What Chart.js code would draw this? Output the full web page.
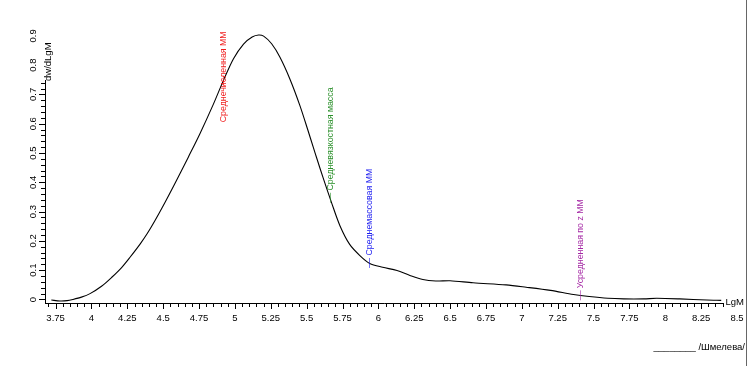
<!DOCTYPE html>
<html>
<head>
<meta charset="utf-8">
<script src="https://cdn.jsdelivr.net/npm/chart.js@4.4.0/dist/chart.umd.min.js"></script>
<style>
  html, body { margin: 0; padding: 0; background: #fff; }
  #wrap { width: 748px; height: 366px; position: relative; }
</style>
</head>
<body>
<div id="wrap"><canvas id="mwd"></canvas></div>
<script>
// MWD curve
const lgM = [3.72, 3.78, 3.83, 3.87, 3.93, 3.99, 4.07, 4.14, 4.21, 4.27, 4.34, 4.39, 4.44, 4.50, 4.57, 4.62,
  4.675, 4.756, 4.85, 4.92, 4.99, 5.06, 5.12, 5.165, 5.20, 5.256, 5.314, 5.383, 5.453, 5.51, 5.546, 5.57,
  5.615, 5.674, 5.732, 5.80, 5.871, 5.94, 6.03, 6.13, 6.22, 6.31, 6.40, 6.50, 6.66, 6.89, 7.03, 7.20,
  7.36, 7.47, 7.60, 7.71, 7.85, 7.94, 8.10, 8.29, 8.39];
const dw = [-0.002, -0.005, -0.004, 0.000, 0.008, 0.020, 0.045, 0.075, 0.109, 0.145, 0.190, 0.226, 0.267, 0.320, 0.385, 0.433,
  0.486, 0.566, 0.667, 0.748, 0.822, 0.872, 0.896, 0.903, 0.899, 0.873, 0.827, 0.753, 0.662, 0.576, 0.520, 0.483,
  0.415, 0.330, 0.252, 0.188, 0.150, 0.123, 0.110, 0.099, 0.082, 0.068, 0.063, 0.064, 0.057, 0.050, 0.042, 0.031,
  0.017, 0.010, 0.004, 0.002, 0.002, 0.004, 0.002, -0.002, -0.003];

// averages marked on the curve
const avgNames = ['Среднечисленная ММ', 'Средневязкостная масса', 'Среднемассовая ММ', 'Усредненная по z ММ'];
const avgLgM = [4.919, 5.662, 5.936, 7.404];
const avgBase = [0.605, 0.372, 0.150, 0.038];
const avgColors = ['#f01c1c', '#2a8f2a', '#1c1cf0', '#a52aa5'];

const xLabels = [3.75, 4, 4.25, 4.5, 4.75, 5, 5.25, 5.5, 5.75, 6, 6.25, 6.5, 6.75, 7, 7.25, 7.5, 7.75, 8, 8.25, 8.5];
const yLabels = [0, 0.1, 0.2, 0.3, 0.4, 0.5, 0.6, 0.7, 0.8, 0.9];

const FONT = '9.5px "Liberation Sans", Arial, sans-serif';
const NOTE_FONT = '8.8px "Liberation Sans", Arial, sans-serif';

const axesPlugin = {
  id: 'axes',
  afterDraw(chart) {
    const ctx = chart.ctx;
    const xs = chart.scales.x, ys = chart.scales.y;
    const bottom = chart.chartArea.bottom;
    const left = chart.chartArea.left;
    ctx.save();
    ctx.strokeStyle = '#000';
    ctx.fillStyle = '#000';
    ctx.lineWidth = 1;
    ctx.font = FONT;

    // x axis
    const xEnd = Math.round(xs.getPixelForValue(8.4)) + 0.5;
    ctx.beginPath();
    ctx.moveTo(left, bottom + 0.5);
    ctx.lineTo(xEnd, bottom + 0.5);
    for (let i = 0; i <= 94; i++) {
      const v = 3.7 + i * 0.05;
      const px = Math.round(xs.getPixelForValue(v)) + 0.5;
      const major = Math.abs(v * 4 - Math.round(v * 4)) < 1e-6;
      ctx.moveTo(px, bottom);
      ctx.lineTo(px, bottom + (major ? 6 : 4));
    }
    ctx.stroke();
    ctx.textAlign = 'center';
    ctx.textBaseline = 'middle';
    xLabels.forEach(v => ctx.fillText(String(v), xs.getPixelForValue(v), bottom + 15));
    ctx.textAlign = 'left';
    ctx.fillText('LgM', xEnd + 2, bottom - 1);

    // y axis
    const yTop = Math.round(ys.getPixelForValue(0.75));
    ctx.beginPath();
    ctx.moveTo(left + 0.5, bottom + 0.5);
    ctx.lineTo(left + 0.5, yTop);
    for (let i = 0; i <= 37; i++) {
      const v = i * 0.02;
      const py = Math.round(ys.getPixelForValue(v)) + 0.5;
      const major = i % 5 === 0;
      ctx.moveTo(left, py);
      ctx.lineTo(left - (major ? 6 : 4), py);
    }
    ctx.stroke();
    yLabels.forEach(v => {
      ctx.save();
      ctx.translate(left - 12, ys.getPixelForValue(v));
      ctx.rotate(-Math.PI / 2);
      ctx.textAlign = 'center';
      ctx.fillText(String(v), 0, 0);
      ctx.restore();
    });
    ctx.save();
    ctx.translate(left + 3, yTop + 1);
    ctx.rotate(-Math.PI / 2);
    ctx.textAlign = 'left';
    ctx.fillText('dw/dLgM', 0, 0);
    ctx.restore();

    // averages
    ctx.font = NOTE_FONT;
    avgNames.forEach((name, i) => {
      const px = Math.round(xs.getPixelForValue(avgLgM[i])) + 0.5;
      let k = 0;
      while (k < lgM.length - 2 && lgM[k + 1] < avgLgM[i]) k++;
      const t = (avgLgM[i] - lgM[k]) / (lgM[k + 1] - lgM[k]);
      const onCurve = ys.getPixelForValue(dw[k] + t * (dw[k + 1] - dw[k]));
      ctx.strokeStyle = avgColors[i];
      ctx.globalAlpha = 0.6;
      ctx.beginPath();
      ctx.moveTo(px, onCurve - 5);
      ctx.lineTo(px, onCurve + 5);
      ctx.stroke();
      ctx.globalAlpha = 1;
      ctx.save();
      ctx.fillStyle = avgColors[i];
      ctx.translate(px, ys.getPixelForValue(avgBase[i]));
      ctx.rotate(-Math.PI / 2);
      ctx.textAlign = 'left';
      ctx.fillText(name, 0, 0);
      ctx.restore();
    });

    // signature and frame
    ctx.font = FONT;
    ctx.fillStyle = '#000';
    ctx.textAlign = 'right';
    ctx.fillText('________ /Шмелева/', 745, 347);
    ctx.strokeStyle = '#666';
    ctx.beginPath();
    ctx.moveTo(746.5, 0);
    ctx.lineTo(746.5, 366);
    ctx.stroke();
    ctx.restore();
  }
};

new Chart(document.getElementById('mwd'), {
  type: 'line',
  data: {
    datasets: [{
      data: lgM.map((x, i) => ({ x: x, y: dw[i] })),
      borderColor: '#000',
      borderWidth: 1.1,
      pointRadius: 0,
      tension: 0.3,
      fill: false
    }]
  },
  options: {
    responsive: true,
    maintainAspectRatio: false,
    animation: false,
    layout: { padding: { left: 45, right: 11, top: 30, bottom: 63 } },
    plugins: { legend: { display: false }, tooltip: { enabled: false } },
    scales: {
      x: { type: 'linear', min: 3.676, max: 8.5, display: false },
      y: { type: 'linear', min: -0.012, max: 0.92, display: false }
    }
  },
  plugins: [axesPlugin]
});
</script>
</body>
</html>
